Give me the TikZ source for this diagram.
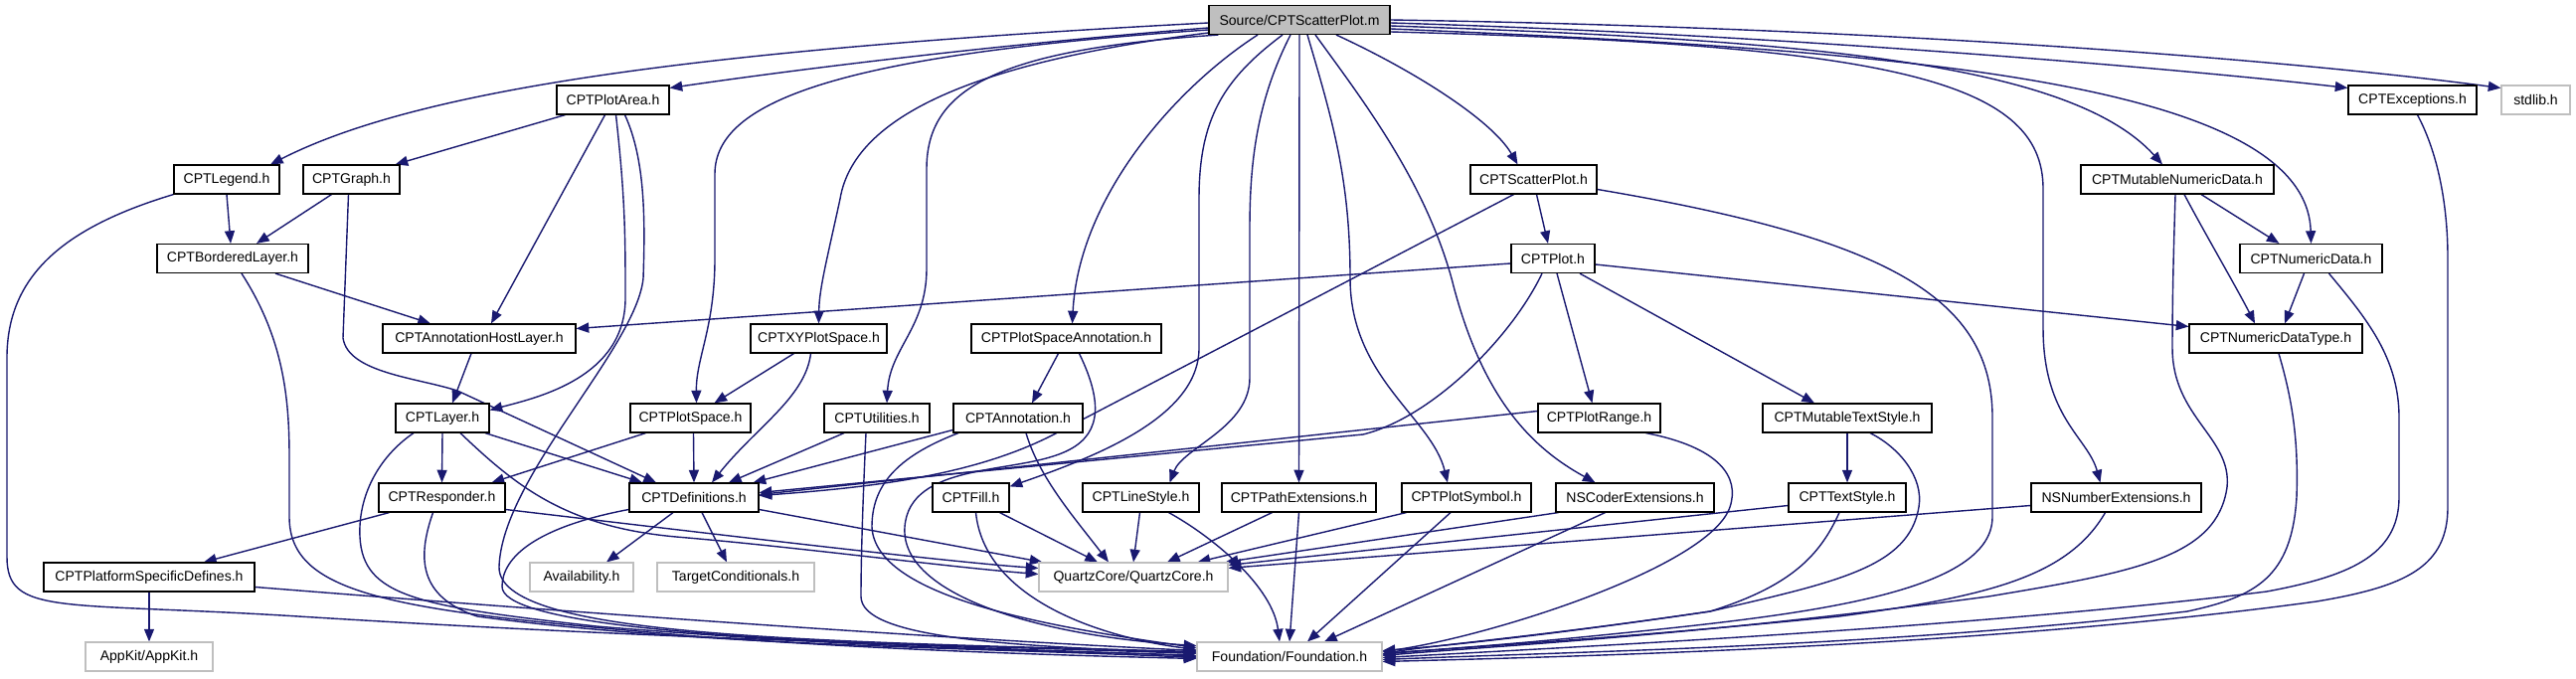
\documentclass[tikz,border=0pt]{standalone}
\usepackage{fontspec}
\setmainfont{Liberation Sans}
\usetikzlibrary{arrows.meta}
\definecolor{edgec}{HTML}{191970}
\definecolor{boxgray}{HTML}{BFBFBF}
\pgfdeclarelayer{bg}
\pgfsetlayers{bg,main}
\tikzset{
  nb/.style={draw=black, fill=white, line width=0.35mm, inner sep=0pt, minimum height=29*0.3mm, font=\fontsize{12}{14}\selectfont, text=black},
  ng/.style={nb, draw=boxgray},
  wd/.style={minimum width={(#1)*0.3mm}},
  sx/.style={xshift={(#1)*0.3mm}},
  sy/.style={yshift={(#1)*(-0.3mm)}},
  dep/.style={draw=edgec, line width=0.42mm, -{Triangle[length=3.8mm,width=3mm]}, fill=none},
}
\begin{document}
\begin{tikzpicture}[x=0.3mm, y=-0.3mm]
\useasboundingbox (0,0) rectangle (2591,683);
% nodes
\node[nb,wd=182,fill=boxgray] (src) at (1307,20) {Source/CPTScatterPlot.m};
\node[nb,wd=113] (plotarea) at (616.5,100.5) {CPTPlotArea.h};
\node[nb,wd=129] (exceptions) at (2426.5,100.5) {CPTExceptions.h};
\node[ng,wd=69] (stdlib) at (2550.5,100.5) {stdlib.h};
\node[nb,wd=106] (legend) at (228,180.5) {CPTLegend.h};
\node[nb,wd=97] (graph) at (353.5,180.5) {CPTGraph.h};
\node[nb,wd=127] (scatterh) at (1542.5,180.5) {CPTScatterPlot.h};
\node[nb,wd=194] (mutnum) at (2190,180.5) {CPTMutableNumericData.h};
\node[nb,wd=152] (bordered) at (234,260) {CPTBorderedLayer.h};
\node[nb,wd=84] (ploth) at (1562,260) {CPTPlot.h};
\node[nb,wd=143] (numdata) at (2324.5,260) {CPTNumericData.h};
\node[nb,wd=194] (annohost) at (482,340.5) {CPTAnnotationHostLayer.h};
\node[nb,wd=137] (xyps) at (823.5,340.5) {CPTXYPlotSpace.h};
\node[nb,wd=191] (psanno) at (1072.5,340.5) {CPTPlotSpaceAnnotation.h};
\node[nb,wd=174] (numtype) at (2289,340.5) {CPTNumericDataType.h};
\node[nb,wd=94] (layerh) at (445,420.5) {CPTLayer.h};
\node[nb,wd=121] (plotspace) at (694.5,420.5) {CPTPlotSpace.h};
\node[nb,wd=106] (utilities) at (882,420.5) {CPTUtilities.h};
\node[nb,wd=130] (annotation) at (1024,420.5) {CPTAnnotation.h};
\node[nb,wd=123] (plotrange) at (1608.5,420.5) {CPTPlotRange.h};
\node[nb,wd=170] (muttext) at (1858,420.5) {CPTMutableTextStyle.h};
\node[nb,wd=127] (responder) at (444.5,500.5) {CPTResponder.h};
\node[nb,wd=130] (definitions) at (698,500.5) {CPTDefinitions.h};
\node[nb,wd=77] (fillh) at (976.5,500.5) {CPTFill.h};
\node[nb,wd=117] (linestyle) at (1147.5,500.5) {CPTLineStyle.h};
\node[nb,wd=155] (pathext) at (1306.5,500.5) {CPTPathExtensions.h};
\node[nb,wd=130] (plotsymbol) at (1475,500.5) {CPTPlotSymbol.h};
\node[nb,wd=159] (nscoder) at (1644.5,500.5) {NSCoderExtensions.h};
\node[nb,wd=118] (textstyle) at (1858,500.5) {CPTTextStyle.h};
\node[nb,wd=171] (nsnumber) at (2128.5,500.5) {NSNumberExtensions.h};
\node[nb,wd=212] (platform) at (150,580.5) {CPTPlatformSpecificDefines.h};
\node[ng,wd=104] (availability) at (585,580.5) {Availability.h};
\node[ng,wd=158] (targetcond) at (740,580.5) {TargetConditionals.h};
\node[ng,wd=190] (quartz) at (1140,580.5) {QuartzCore/QuartzCore.h};
\node[ng,wd=128] (appkit) at (150,660.5) {AppKit/AppKit.h};
\node[ng,wd=186] (foundation) at (1297,660.5) {Foundation/Foundation.h};

\begin{pgfonlayer}{bg}
\fill[white] (0,0) rectangle (2591,683);
% source edges
\draw[dep] ([sy=3]src.west) .. controls (700,50) and (420,90) .. ([sx=44]legend.north);
\draw[dep] ([sy=8]src.west) .. controls (1000,45) and (800,70) .. ([sy=-12]plotarea.east);
\draw[dep] ([sy=10]src.west) .. controls (850,55) and (719,100) .. (719,175) -- (719,260) .. controls (719,330) and (700,360) .. ([sx=6]plotspace.north);
\draw[dep] ([sy=13]src.west) .. controls (1000,60) and (860,110) .. (845,200) .. controls (832,260) and (824,290) .. (xyps.north);
\draw[dep] ([sx=10]src.south west) .. controls (1000,50) and (932,90) .. (932,170) -- (932,270) .. controls (932,330) and (895,350) .. ([sx=10]utilities.north);
\draw[dep] ([sx=-42]src.south) .. controls (1180,90) and (1085,200) .. ([sx=6]psanno.north);
\draw[dep] ([sx=-17]src.south) .. controls (1230,80) and (1206,120) .. (1206,200) -- (1206,350) .. controls (1206,420) and (1100,460) .. ([sy=4]fillh.north east);
\draw[dep] ([sx=-9]src.south) .. controls (1265,100) and (1257,160) .. (1257,230) -- (1257,380) .. controls (1257,430) and (1190,450) .. ([sx=29]linestyle.north);
\draw[dep] (src.south) -- (pathext.north);
\draw[dep] ([sx=8]src.south) .. controls (1340,120) and (1358,180) .. (1358,280) .. controls (1358,380) and (1440,420) .. ([sx=-19]plotsymbol.north);
\draw[dep] ([sx=16]src.south) .. controls (1370,100) and (1432,180) .. (1460,280) .. controls (1490,400) and (1540,450) .. ([sx=-40]nscoder.north);
\draw[dep] ([sx=37]src.south) .. controls (1420,70) and (1500,120) .. ([sx=-16]scatterh.north);
\draw[dep] ([sy=3]src.east) .. controls (1800,35) and (2200,70) .. ([sy=-12]exceptions.west);
\draw[dep] ([sy=0]src.east) .. controls (1900,28) and (2300,60) .. ([sy=-12]stdlib.west);
\draw[dep] ([sy=6]src.east) .. controls (1800,40) and (2080,60) .. ([sx=-15]mutnum.north);
\draw[dep] ([sy=9]src.east) .. controls (1900,50) and (2320,80) .. (numdata.north);
\draw[dep] ([sy=12]src.east) .. controls (1900,45) and (2055,80) .. (2055,190) -- (2055,330) .. controls (2055,420) and (2100,440) .. ([sx=-16]nsnumber.north);
% plot area
\draw[dep] ([sx=9]plotarea.south west) -- ([sx=-5]graph.north east);
\draw[dep] ([sx=-8]plotarea.south) -- ([sx=12]annohost.north);
\draw[dep] ([sx=3]plotarea.south) .. controls (629,200) and (629,240) .. (629,300) .. controls (629,380) and (540,400) .. ([sy=-8]layerh.east);
\draw[dep] ([sx=12]plotarea.south) .. controls (649,160) and (649,220) .. (647,280) .. controls (640,350) and (505,480) .. (502,570) .. controls (500,640) and (800,645) .. ([sy=-5]foundation.west);
% legend
\draw[dep] (legend.south) -- ([sx=-2]bordered.north);
\draw[dep] (legend.south west) .. controls (60,230) and (7,280) .. (7,360) -- (7,560) .. controls (7,620) and (60,605) .. (300,620) .. controls (700,645) and (1000,650) .. ([sy=-3]foundation.west);
% graph
\draw[dep] ([sx=-20]graph.south) -- ([sx=24]bordered.north);
\draw[dep] ([sx=-3]graph.south) -- (345,340) .. controls (350,375) and (420,380) .. (460,393) -- ([sx=-38]definitions.north);
% bordered
\draw[dep] ([sx=43]bordered.south) -- ([sx=-49]annohost.north);
\draw[dep] ([sx=9]bordered.south) .. controls (285,340) and (291,400) .. (291,460) -- (291,520) .. controls (291,600) and (400,615) .. (700,640) .. controls (900,655) and (1100,660) .. ([sy=2]foundation.west);
% annotation host
\draw[dep] ([sx=-8]annohost.south) -- ([sx=10]layerh.north);
% plot
\draw[dep] ([sy=5]ploth.west) -- ([sy=-10]annohost.east);
\draw[dep] ([sy=6]ploth.east) -- ([sy=-12]numtype.west);
\draw[dep] ([sx=4]ploth.south) -- ([sx=-7]plotrange.north);
\draw[dep] ([sx=27]ploth.south) -- ([sx=-33]muttext.north);
\draw[dep] ([sx=-11]ploth.south) .. controls (1520,340) and (1440,420) .. (1371,437) -- ([sy=-5]definitions.east);
% plot range
\draw[dep] ([sy=-7]plotrange.west) -- ([sy=-3]definitions.east);
\draw[dep] ([sx=47]plotrange.south) .. controls (1730,450) and (1750,480) .. (1740,510) .. controls (1720,570) and (1500,640) .. ([sy=-5]foundation.east);
% scatter plot header
\draw[dep] ([sx=3]scatterh.south) -- ([sx=-5]ploth.north);
\draw[dep] ([sx=-20]scatterh.south) -- (1060,437) .. controls (980,478) and (880,490) .. ([sy=-2]definitions.east);
\draw[dep] ([sy=10]scatterh.east) .. controls (1900,240) and (2004,300) .. (2004,420) -- (2004,520) .. controls (2004,600) and (1800,620) .. (1600,640) .. controls (1500,650) and (1420,655) .. ([sy=-3]foundation.east);
% mutable numeric data
\draw[dep] ([sx=24]mutnum.south) -- ([sx=-32]numdata.north);
\draw[dep] ([sx=7]mutnum.south) .. controls (2215,230) and (2250,290) .. ([sx=-21]numtype.north);
\draw[dep] ([sx=-2]mutnum.south) .. controls (2186,260) and (2185,300) .. (2185,350) .. controls (2185,420) and (2245,440) .. (2240,490) .. controls (2230,560) and (2150,575) .. (2000,600) .. controls (1700,640) and (1500,650) .. ([sy=-1]foundation.east);
% numeric data
\draw[dep] ([sx=-7]numdata.south) -- ([sx=9]numtype.north);
\draw[dep] ([sx=18]numdata.south) .. controls (2380,320) and (2413,360) .. (2413,420) -- (2413,500) .. controls (2413,560) and (2360,580) .. (2280,595) .. controls (2000,630) and (1600,650) .. ([sy=1]foundation.east);
% numeric data type
\draw[dep] ([sx=3]numtype.south) .. controls (2305,400) and (2312,440) .. (2310,500) .. controls (2305,580) and (2270,600) .. (2200,615) .. controls (1900,650) and (1600,655) .. ([sy=3]foundation.east);
% exceptions
\draw[dep] ([sx=5]exceptions.south) .. controls (2450,150) and (2462,200) .. (2462,260) -- (2462,510) .. controls (2462,570) and (2420,590) .. (2330,605) .. controls (2000,650) and (1600,660) .. ([sy=5]foundation.east);
% mutable text style
\draw[dep] (muttext.south) -- (textstyle.north);
\draw[dep] ([sx=23]muttext.south) .. controls (1910,450) and (1935,480) .. (1930,510) .. controls (1920,570) and (1850,585) .. (1720,615) .. controls (1550,640) and (1450,648) .. ([sy=-3]foundation.east);
% text style
\draw[dep] ([sy=8]textstyle.west) -- ([sy=3]quartz.north east);
\draw[dep] ([sx=-8]textstyle.south) .. controls (1830,560) and (1800,590) .. (1720,615) .. controls (1550,640) and (1450,650) .. ([sy=-6]foundation.east);
% number extensions
\draw[dep] ([sy=8]nsnumber.west) -- ([sy=6]quartz.north east);
\draw[dep] ([sx=-11]nsnumber.south) .. controls (2080,580) and (2000,600) .. (1850,620) .. controls (1600,645) and (1450,652) .. ([sy=-2]foundation.east);
% coder, symbol, path, line style, fill
\draw[dep] ([sx=3]nscoder.south west) -- ([sx=-3]quartz.north east);
\draw[dep] ([sx=-30]nscoder.south) -- ([sx=35]foundation.north);
\draw[dep] ([sx=5]plotsymbol.south west) -- ([sx=-31]quartz.north east);
\draw[dep] ([sx=-16]plotsymbol.south) -- ([sx=18]foundation.north);
\draw[dep] ([sx=-27]pathext.south) -- ([sx=34]quartz.north);
\draw[dep] (pathext.south) -- (foundation.north);
\draw[dep] ([sx=-1]linestyle.south) -- (quartz.north);
\draw[dep] ([sx=28]linestyle.south) .. controls (1220,540) and (1280,590) .. ([sx=-10]foundation.north);
\draw[dep] ([sx=29]fillh.south) -- ([sx=-36]quartz.north);
\draw[dep] ([sx=5]fillh.south) .. controls (990,600) and (1100,640) .. ([sy=-7]foundation.west);
% annotation
\draw[dep] ([sy=12]annotation.west) -- ([sx=-6]definitions.north east);
\draw[dep] ([sx=8]annotation.south) .. controls (1045,480) and (1080,520) .. ([sx=-25]quartz.north);
\draw[dep] ([sx=-60]annotation.south) .. controls (900,460) and (877,490) .. (877,530) .. controls (880,600) and (1050,630) .. ([sy=-9]foundation.west);
% plot space annotation
\draw[dep] ([sx=-8]psanno.south) -- ([sx=14]annotation.north);
\draw[dep] ([sx=13]psanno.south) .. controls (1112,410) and (1105,440) .. (1070,455) .. controls (1020,477) and (915,465) .. (910,530) .. controls (905,600) and (1050,640) .. ([sy=-11]foundation.west);
% utilities
\draw[dep] ([sx=-33]utilities.south) -- ([sx=35]definitions.north);
\draw[dep] ([sx=-11]utilities.south) .. controls (868,500) and (866,560) .. (866,600) .. controls (866,640) and (1000,650) .. ([sy=-4]foundation.west);
% XY plot space
\draw[dep] ([sx=-25]xyps.south) -- ([sx=24]plotspace.north);
\draw[dep] ([sx=-8]xyps.south) .. controls (810,400) and (760,430) .. ([sx=18]definitions.north);
% plot space
\draw[dep] ([sx=-45]plotspace.south) -- ([sx=50]responder.north);
\draw[dep] ([sx=3]plotspace.south) -- (definitions.north);
% layer
\draw[dep] (layerh.south) -- (responder.north);
\draw[dep] ([sx=43]layerh.south) -- ([sx=-52]definitions.north);
\draw[dep] ([sx=18]layerh.south) .. controls (520,490) and (570,530) .. (680,540) .. controls (800,550) and (950,570) .. ([sy=-3]quartz.west);
\draw[dep] ([sx=-29]layerh.south) .. controls (380,460) and (360,500) .. (362,540) .. controls (365,600) and (420,610) .. (600,630) .. controls (900,655) and (1100,655) .. ([sy=-1]foundation.west);
% responder
\draw[dep] ([sx=-53]responder.south) -- ([sx=55]platform.north);
\draw[dep] ([sx=-9]responder.south) .. controls (420,560) and (420,600) .. (480,620) .. controls (700,650) and (1000,652) .. ([sy=1]foundation.west);
\draw[dep] ([sy=12]responder.east) .. controls (700,535) and (950,565) .. ([sy=-9]quartz.west);
% platform
\draw[dep] (platform.south) -- (appkit.north);
\draw[dep] ([sy=10]platform.east) .. controls (500,610) and (900,640) .. ([sy=-6]foundation.west);
% definitions
\draw[dep] ([sx=-21]definitions.south) -- ([sx=25]availability.north);
\draw[dep] ([sx=8]definitions.south) -- ([sx=-9]targetcond.north);
\draw[dep] ([sy=12]definitions.west) .. controls (540,530) and (505,560) .. (505,590) .. controls (505,625) and (700,640) .. (900,648) .. controls (1050,655) and (1150,657) .. ([sy=0]foundation.west);
\draw[dep] ([sy=12]definitions.east) -- ([sx=4]quartz.north west);
\end{pgfonlayer}
\end{tikzpicture}
\end{document}
